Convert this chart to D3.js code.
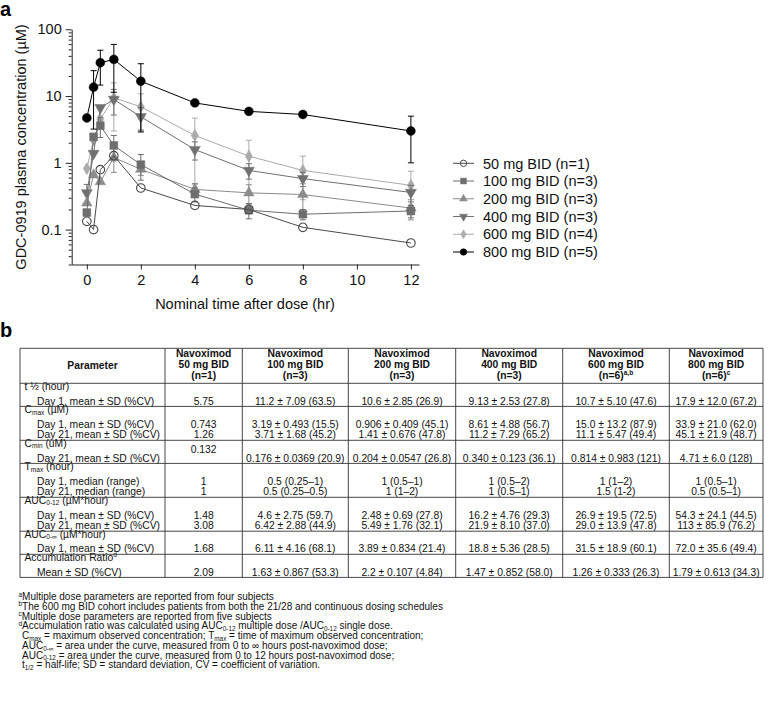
<!DOCTYPE html>
<html><head><meta charset="utf-8">
<script src="https://cdn.jsdelivr.net/npm/d3@7"></script>
<style>
body{margin:0;background:#fff}
svg{display:block;font-family:"Liberation Sans",Arial,Helvetica,sans-serif}
</style>
</head><body>
<svg id="c" width="777" height="701"></svg>
<script>
// ---------- DATA (panel a) ----------
const times = [0, 0.25, 0.5, 1, 2, 4, 6, 8, 12];
const xTicks = [0, 2, 4, 6, 8, 10, 12];
const yTicks = [0.1, 1, 10, 100];
const seriesNames = ["50 mg BID (n=1)", "100 mg BID (n=3)", "200 mg BID (n=3)", "400 mg BID (n=3)", "600 mg BID (n=4)", "800 mg BID (n=5)"];
const conc50  = [0.133, 0.10, 0.79, 1.28, 0.42, 0.23, 0.20, 0.108, 0.063];
const conc100 = [0.18, 2.45, 3.6, 1.82, 0.94, 0.34, 0.195, 0.17, 0.19];
const conc200 = [0.25, 0.66, 0.52, 1.2, 0.80, 0.40, 0.355, 0.335, 0.21];
const conc400 = [0.355, 1.38, 6.7, 8.9, 4.9, 1.58, 0.77, 0.58, 0.36];
const conc600 = [0.82, 2.2, 4.5, 9.4, 6.9, 2.57, 1.26, 0.77, 0.46];
const conc800 = [4.7, 13.6, 31.6, 35.4, 16.7, 7.9, 5.9, 5.3, 3.0];
const sd50  = [null, null, null, null, null, null, null, null, null];
const sd100 = [null, null, 1.2, 0.75, 0.39, 0.08, 0.05, 0.03, 0.04];
const sd200 = [null, null, null, 0.48, 0.15, 0.09, 0.115, 0.15, 0.07];
const sd400 = [0.12, null, null, 3.7, 1.8, 0.48, 0.2, 0.14, 0.1];
const sd600 = [null, null, null, 6.4, 3.9, 2.1, 0.92, 0.49, 0.29];
const sd800 = [null, 10.4, 17, 24, 13.8, null, null, null, 2.0];

// ---------- DATA (panel b) ----------
const tableHeader = [["Parameter"],
  ["Navoximod", "50 mg BID", "(n=1)"], ["Navoximod", "100 mg BID", "(n=3)"], ["Navoximod", "200 mg BID", "(n=3)"],
  ["Navoximod", "400 mg BID", "(n=3)"], ["Navoximod", "600 mg BID", "(n=6)|a,b"], ["Navoximod", "800 mg BID", "(n=6)|c"]];
const blockLabels = [
  [{t:"t ½ (hour)"}],
  [{t:"C"},{t:"max",s:"sub"},{t:" (µM)"}],
  [{t:"C"},{t:"min",s:"sub"},{t:" (uM)"}],
  [{t:"T"},{t:"max",s:"sub"},{t:" (hour)"}],
  [{t:"AUC"},{t:"0-12",s:"sub"},{t:" (µM*hour)"}],
  [{t:"AUC"},{t:"0-∞",s:"sub"},{t:" (µM*hour)"}],
  [{t:"Accumulation Ratio"},{t:"d",s:"sup"}]
];
const rowsHalfLife = [["Day 1, mean ± SD (%CV)", "5.75", "11.2 ± 7.09 (63.5)", "10.6 ± 2.85 (26.9)", "9.13 ± 2.53 (27.8)", "10.7 ± 5.10 (47.6)", "17.9 ± 12.0 (67.2)"]];
const rowsCmax = [
  ["Day 1, mean ± SD (%CV)", "0.743", "3.19 ± 0.493 (15.5)", "0.906 ± 0.409 (45.1)", "8.61 ± 4.88 (56.7)", "15.0 ± 13.2 (87.9)", "33.9 ± 21.0 (62.0)"],
  ["Day 21, mean ± SD (%CV)", "1.26", "3.71 ± 1.68 (45.2)", "1.41 ± 0.676 (47.8)", "11.2 ± 7.29 (65.2)", "11.1 ± 5.47 (49.4)", "45.1 ± 21.9 (48.7)"]];
const rowsCmin = [["Day 21, mean ± SD (%CV)", "0.132", "0.176 ± 0.0369 (20.9)", "0.204 ± 0.0547 (26.8)", "0.340 ± 0.123 (36.1)", "0.814 ± 0.983 (121)", "4.71 ± 6.0 (128)"]];
const rowsTmax = [
  ["Day 1, median (range)", "1", "0.5 (0.25–1)", "1 (0.5–1)", "1 (0.5–2)", "1 (1–2)", "1 (0.5–1)"],
  ["Day 21, median (range)", "1", "0.5 (0.25–0.5)", "1 (1–2)", "1 (0.5–1)", "1.5 (1-2)", "0.5 (0.5–1)"]];
const rowsAuc12 = [
  ["Day 1, mean ± SD (%CV)", "1.48", "4.6 ± 2.75 (59.7)", "2.48 ± 0.69 (27.8)", "16.2 ± 4.76 (29.3)", "26.9 ± 19.5 (72.5)", "54.3 ± 24.1 (44.5)"],
  ["Day 21, mean ± SD (%CV)", "3.08", "6.42 ± 2.88 (44.9)", "5.49 ± 1.76 (32.1)", "21.9 ± 8.10 (37.0)", "29.0 ± 13.9 (47.8)", "113 ± 85.9 (76.2)"]];
const rowsAucInf = [["Day 1, mean ± SD (%CV)", "1.68", "6.11 ± 4.16 (68.1)", "3.89 ± 0.834 (21.4)", "18.8 ± 5.36 (28.5)", "31.5 ± 18.9 (60.1)", "72.0 ± 35.6 (49.4)"]];
const rowsAccum = [["Mean ± SD (%CV)", "2.09", "1.63 ± 0.867 (53.3)", "2.2 ± 0.107 (4.84)", "1.47 ± 0.852 (58.0)", "1.26 ± 0.333 (26.3)", "1.79 ± 0.613 (34.3)"]];
const footnotes = [
  [{t:"a",s:"sup"},{t:"Multiple dose parameters are reported from four subjects"}],
  [{t:"b",s:"sup"},{t:"The 600 mg BID cohort includes patients from both the 21/28 and continuous dosing schedules"}],
  [{t:"c",s:"sup"},{t:"Multiple dose parameters are reported from five subjects"}],
  [{t:"d",s:"sup"},{t:"Accumulation ratio was calculated using AUC"},{t:"0-12",s:"sub"},{t:" multiple dose /AUC"},{t:"0-12",s:"sub"},{t:" single dose."}],
  [{t:"C"},{t:"max",s:"sub"},{t:" = maximum observed concentration; T"},{t:"max",s:"sub"},{t:" = time of maximum observed concentration;"}],
  [{t:"AUC"},{t:"0-∞",s:"sub"},{t:" = area under the curve, measured from 0 to ∞ hours post-navoximod dose;"}],
  [{t:"AUC"},{t:"0-12",s:"sub"},{t:" = area under the curve, measured from 0 to 12 hours post-navoximod dose;"}],
  [{t:"t"},{t:"1/2",s:"sub"},{t:" = half-life;  SD = standard deviation, CV = coefficient of variation."}]
];

// ---------- STYLES ----------
const series = [
  {name: seriesNames[0], v: conc50,  sd: sd50,  color: "#4a4a4a", sym: d3.symbolCircle,   size: 58, fill: "none", rot: 0},
  {name: seriesNames[1], v: conc100, sd: sd100, color: "#6e6e6e", sym: d3.symbolSquare,   size: 62, fill: "#6e6e6e", rot: 0},
  {name: seriesNames[2], v: conc200, sd: sd200, color: "#8c8c8c", sym: d3.symbolTriangle, size: 48, fill: "#8c8c8c", rot: 0},
  {name: seriesNames[3], v: conc400, sd: sd400, color: "#707070", sym: d3.symbolTriangle, size: 52, fill: "#707070", rot: 180},
  {name: seriesNames[4], v: conc600, sd: sd600, color: "#ababab", sym: d3.symbolDiamond,  size: 44, fill: "#ababab", rot: 0},
  {name: seriesNames[5], v: conc800, sd: sd800, color: "#000000", sym: d3.symbolCircle,   size: 62, fill: "#000000", rot: 0}
];
const drawOrder = [4, 3, 2, 1, 0, 5];

const svg = d3.select("#c");
const x = d3.scaleLinear().domain([-0.56, 12.3]).range([71.7, 419]);
const y = d3.scaleLog().domain([0.03, 100]).range([264.5, 29.3]);

// panel labels
svg.append("text").attr("x", 0).attr("y", 16).attr("font-size", 20).attr("font-weight", "bold").text("a");
svg.append("text").attr("x", 0).attr("y", 337).attr("font-size", 20).attr("font-weight", "bold").text("b");

// axes
const gx = svg.append("g").attr("transform", "translate(0,264.5)")
  .call(d3.axisBottom(x).tickValues(xTicks).tickSize(5).tickSizeOuter(0).tickPadding(5));
const minor = [];
[0.01, 0.1, 1, 10].forEach(d => { for (let k = 2; k <= 9; k++) { const v = +(d * k).toPrecision(3); if (v >= 0.03 && v < 100) minor.push(v); } });
svg.append("g").attr("transform", "translate(71.7,0)")
  .call(d3.axisLeft(y).tickValues(minor).tickSize(3).tickSizeOuter(0).tickFormat(""))
  .call(g => g.select(".domain").remove());
const gy = svg.append("g").attr("transform", "translate(71.7,0)")
  .call(d3.axisLeft(y).tickValues(yTicks).tickSize(6).tickSizeOuter(0).tickPadding(4).tickFormat(d => d3.format("")(d)));
[gx, gy].forEach(g => { g.selectAll("text").attr("font-size", 14.5).attr("font-family", "Liberation Sans, Arial, sans-serif").attr("fill", "#111");
  g.selectAll("line,path").attr("stroke", "#222"); });
svg.selectAll(".tick line").attr("stroke", "#222");

svg.append("text").attr("x", 245).attr("y", 308.5).attr("text-anchor", "middle").attr("font-size", 14.5).attr("fill", "#111")
  .text("Nominal time after dose (hr)");
svg.append("text").attr("transform", "translate(26,147) rotate(-90)").attr("text-anchor", "middle").attr("font-size", 14.5).attr("fill", "#111")
  .text("GDC-0919 plasma concentration (µM)");

// series
const line = d3.line().x((d, i) => x(times[i])).y(d => y(d));
const plot = svg.append("g");
drawOrder.forEach(si => {
  const s = series[si];
  const g = plot.append("g");
  g.append("path").datum(s.v).attr("d", line).attr("fill", "none").attr("stroke", s.color).attr("stroke-width", 1);
  s.v.forEach((v, i) => {
    const sd = s.sd[i]; if (sd == null) return;
    const hi = v + sd; let lo = v - sd; const clipped = lo < 0.03; if (clipped) lo = 0.03;
    const cx = x(times[i]);
    g.append("line").attr("x1", cx).attr("x2", cx).attr("y1", y(lo)).attr("y2", y(hi)).attr("stroke", s.color).attr("stroke-width", 1);
    g.append("line").attr("x1", cx - 3).attr("x2", cx + 3).attr("y1", y(hi)).attr("y2", y(hi)).attr("stroke", s.color).attr("stroke-width", 1);
    if (!clipped) g.append("line").attr("x1", cx - 3).attr("x2", cx + 3).attr("y1", y(lo)).attr("y2", y(lo)).attr("stroke", s.color).attr("stroke-width", 1);
  });
  g.selectAll("path.m").data(s.v).enter().append("path").attr("class", "m")
    .attr("d", d3.symbol().type(s.sym).size(s.size))
    .attr("transform", (d, i) => `translate(${x(times[i])},${y(d)}) rotate(${s.rot})`)
    .attr("fill", s.fill).attr("stroke", s.color).attr("stroke-width", s.fill === "none" ? 1.1 : 0.5);
});

// legend
const legendY = d3.scalePoint().domain(seriesNames).range([163.3, 252]);
const lg = svg.append("g");
series.forEach(s => {
  const ly = legendY(s.name);
  lg.append("line").attr("x1", 453).attr("x2", 474).attr("y1", ly).attr("y2", ly).attr("stroke", s.color).attr("stroke-width", 1);
  lg.append("path").attr("d", d3.symbol().type(s.sym).size(s.size * 0.55))
    .attr("transform", `translate(463.5,${ly}) rotate(${s.rot})`).attr("fill", s.fill).attr("stroke", s.color).attr("stroke-width", s.fill === "none" ? 1 : 0.5);
  lg.append("text").attr("x", 483).attr("y", ly).attr("dy", "0.36em").attr("font-size", 14.5).attr("fill", "#111").text(s.name);
});

// ---------- TABLE ----------
function rich(sel, segs, fs) {
  let shift = 0;
  segs.forEach(sg => {
    let target = sg.s === "sub" ? fs * 0.18 : sg.s === "sup" ? -fs * 0.33 : 0;
    const ts = sel.append("tspan").text(sg.t).attr("dy", target - shift);
    if (sg.s) ts.attr("font-size", fs * 0.64);
    shift = target;
  });
}
const colX = [20, 165, 242.3, 348.3, 455.7, 562.7, 669.3, 763];
const tableTop = 348.3, headerBottom = 383.3, lineH = 10.8, fsT = 10.3;
const tg = svg.append("g").attr("font-size", fsT).attr("fill", "#111");
const blocks = [rowsHalfLife, rowsCmax, rowsCmin, rowsTmax, rowsAuc12, rowsAucInf, rowsAccum];
const hLines = [tableTop, headerBottom];
let yy = headerBottom;
blocks.forEach((rows, bi) => {
  const top = yy;
  const lbl = tg.append("text").attr("x", 24.5).attr("y", top + 6.3).attr("dy", "0.35em");
  rich(lbl, blockLabels[bi], fsT);
  rows.forEach((r, ri) => {
    const cy = top + 6.8 + lineH * (ri + 1);
    tg.append("text").attr("x", 37).attr("y", cy).attr("dy", "0.35em").text(r[0]);
    r.slice(1).forEach((v, ci) => {
      let vy = cy;
      if (bi === 2 && ci === 0) vy = top + 9;
      tg.append("text").attr("x", (colX[ci + 1] + colX[ci + 2]) / 2).attr("y", vy).attr("dy", "0.35em")
        .attr("text-anchor", "middle").text(v);
    });
  });
  yy = top + lineH * (rows.length + 1) + 1.5;
  hLines.push(yy);
});
// header
tableHeader.forEach((h, ci) => {
  const cx = (colX[ci] + colX[ci + 1]) / 2;
  const ys = h.length === 1 ? [365.8] : [353.6, 364.4, 375.2];
  h.forEach((t, k) => {
    const parts = t.split("|");
    const tx = tg.append("text").attr("x", cx).attr("y", ys[k]).attr("dy", "0.35em").attr("text-anchor", "middle").attr("font-weight", "bold");
    tx.append("tspan").text(parts[0]);
    if (parts[1]) tx.append("tspan").text(parts[1]).attr("font-size", 6.5).attr("dy", -3.5);
  });
});
const tb = hLines[hLines.length - 1];
hLines.forEach(v => tg.append("line").attr("x1", colX[0]).attr("x2", colX[colX.length - 1]).attr("y1", v).attr("y2", v).attr("stroke", "#333").attr("stroke-width", 0.9));
colX.forEach(v => tg.append("line").attr("x1", v).attr("x2", v).attr("y1", tableTop).attr("y2", tb).attr("stroke", "#333").attr("stroke-width", 0.9));

// footnotes
const fg = svg.append("g").attr("font-size", 10).attr("fill", "#111");
footnotes.forEach((f, i) => {
  const t = fg.append("text").attr("x", i < 4 ? 18.5 : 22).attr("y", 600 + i * 9.75).attr("dy", "0.35em");
  rich(t, f, 10);
});
</script>
</body></html>
